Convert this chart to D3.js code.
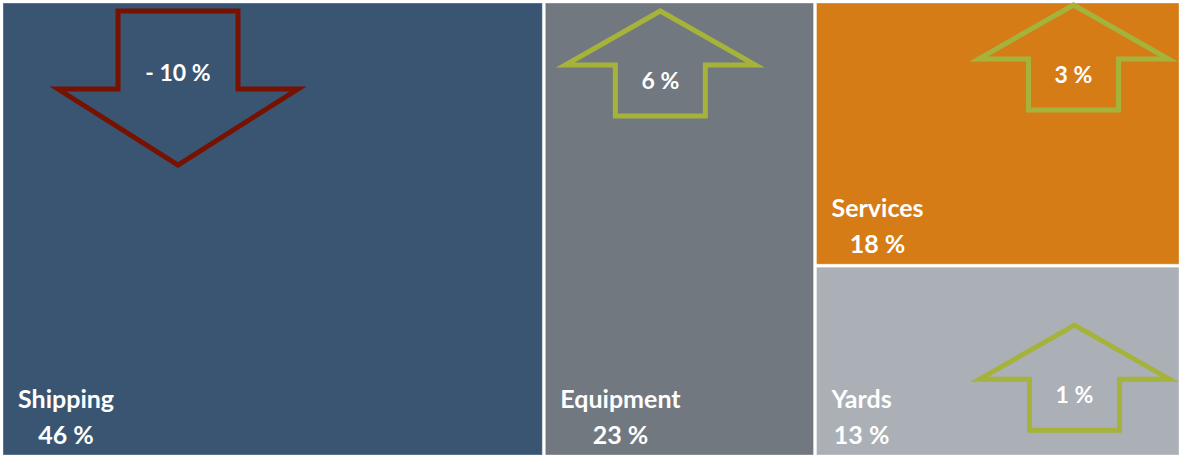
<!DOCTYPE html>
<html>
<head>
<meta charset="utf-8">
<script src="https://cdn.jsdelivr.net/npm/d3@7/dist/d3.min.js"></script>
<style>
  html, body { margin: 0; padding: 0; background: #ffffff; }
  svg { display: block; }
  .cell-label { font-family: Lato, "Open Sans", sans-serif; font-weight: 700; fill: #ffffff; }
</style>
</head>
<body>
<svg id="chart" width="1180" height="456"></svg>
<script>
  // ---------------------------------------------------------------------------
  // Data
  // ---------------------------------------------------------------------------

  const segments = ["Shipping", "Equipment", "Services", "Yards"];
  const shares = [46, 23, 18, 13];          // share of total, %
  const changes = [-10, 6, 3, 1];           // change, percentage points

  // ---------------------------------------------------------------------------
  // Styling / layout
  // ---------------------------------------------------------------------------

  const W = 1180;
  const H = 456;

  const fillColor = d3.scaleOrdinal()
    .domain(segments)
    .range(["#3a5572", "#72787f", "#d67c16", "#aab0b6"]);

  const UP_COLOR = "#a5b33a";
  const DOWN_COLOR = "#771100";

  // where the change arrow sits inside each cell (offset of arrow centre / top)
  const arrowAnchor = {
    Shipping: { dx: 175, dy: 8 },
    Equipment: { dx: 115, dy: 8 },
    Services: { dx: 257, dy: 2 },
    Yards: { dx: 258, dy: 58 },
  };

  const ARROW_SMALL = { hw: 95, sw: 45, hh: 54, len: 105 };
  const ARROW_LARGE = { hw: 120, sw: 60, hh: 76, len: 154 };

  const NAME_SIZE = 25;
  const CHANGE_SIZE = 23;

  // ---------------------------------------------------------------------------
  // Treemap
  // ---------------------------------------------------------------------------

  const rootData = {
    name: "root",
    children: segments.map((s, i) => ({ name: s, share: shares[i], change: changes[i] })),
  };

  const root = d3.hierarchy(rootData).sum((d) => d.share || 0);

  d3.treemap()
    .tile(d3.treemapBinary)
    .size([W - 4, H - 4])
    .paddingInner(3)(root);

  const svg = d3.select("#chart");
  const g = svg.append("g").attr("transform", "translate(3,3)");

  const cells = g.selectAll("g.cell")
    .data(root.leaves())
    .join("g")
    .attr("class", "cell")
    .attr("transform", (d) => `translate(${d.x0},${d.y0})`);

  cells.append("rect")
    .attr("width", (d) => d.x1 - d.x0)
    .attr("height", (d) => d.y1 - d.y0)
    .attr("fill", (d) => fillColor(d.data.name))
    .attr("stroke", "rgba(255,255,255,0.35)")
    .attr("stroke-width", 1);

  // arrow outline from its top y0, pointing up or down
  function arrowPoints(cx, y0, a, down) {
    const pts = down
      ? [
          [cx - a.sw, y0], [cx + a.sw, y0], [cx + a.sw, y0 + a.len - a.hh],
          [cx + a.hw, y0 + a.len - a.hh], [cx, y0 + a.len],
          [cx - a.hw, y0 + a.len - a.hh], [cx - a.sw, y0 + a.len - a.hh],
        ]
      : [
          [cx, y0], [cx + a.hw, y0 + a.hh], [cx + a.sw, y0 + a.hh],
          [cx + a.sw, y0 + a.len], [cx - a.sw, y0 + a.len],
          [cx - a.sw, y0 + a.hh], [cx - a.hw, y0 + a.hh],
        ];
    return pts.map((p) => p.join(",")).join(" ");
  }

  cells.each(function (d) {
    const cell = d3.select(this);
    const anchor = arrowAnchor[d.data.name];
    const down = d.data.change < 0;
    const a = down ? ARROW_LARGE : ARROW_SMALL;

    cell.append("polygon")
      .attr("points", arrowPoints(anchor.dx, anchor.dy, a, down))
      .attr("fill", "none")
      .attr("stroke", down ? DOWN_COLOR : UP_COLOR)
      .attr("stroke-width", 5)
      .attr("stroke-linejoin", "miter");

    const labelY = down ? anchor.dy + a.len - a.hh - 8 : anchor.dy + a.hh + 24;
    cell.append("text")
      .attr("class", "cell-label")
      .attr("x", anchor.dx)
      .attr("y", labelY)
      .attr("text-anchor", "middle")
      .attr("font-size", CHANGE_SIZE)
      .text(down ? `- ${Math.abs(d.data.change)} %` : `${d.data.change} %`);

    // name + share, share centred under the name
    const h = d.y1 - d.y0;
    const name = cell.append("text")
      .attr("class", "cell-label")
      .attr("x", 15)
      .attr("y", h - 47)
      .attr("font-size", NAME_SIZE)
      .text(d.data.name);
    const nameW = name.node().getComputedTextLength();

    cell.append("text")
      .attr("class", "cell-label")
      .attr("x", 15 + nameW / 2)
      .attr("y", h - 11)
      .attr("text-anchor", "middle")
      .attr("font-size", NAME_SIZE)
      .text(`${d.data.share} %`);
  });
</script>
</body>
</html>
